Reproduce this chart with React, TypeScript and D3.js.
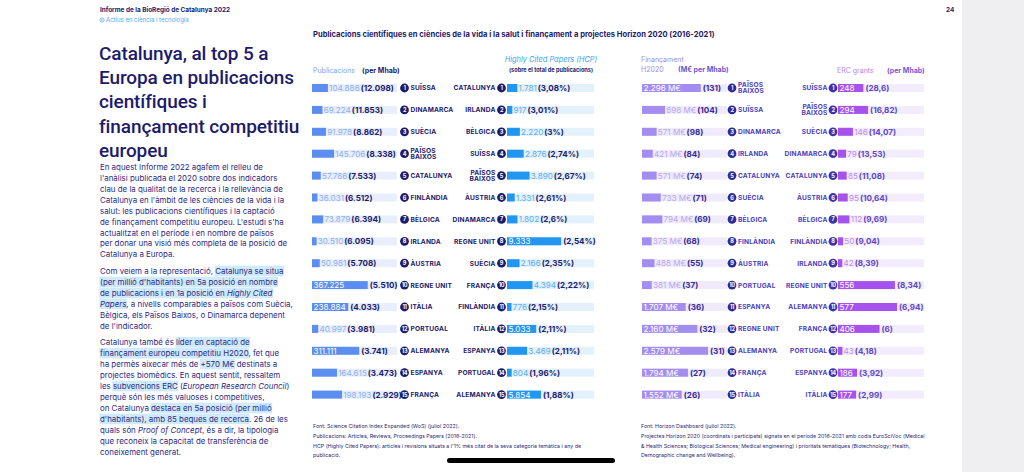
import React, { useEffect, useRef } from 'react';
import * as d3 from 'd3';

// ---------- DATA ----------
const pubCountries = ["SUÏSSA", "DINAMARCA", "SUÈCIA", "PAÏSOS BAIXOS", "CATALUNYA", "FINLÀNDIA", "BÈLGICA", "IRLANDA", "ÀUSTRIA", "REGNE UNIT", "ITÀLIA", "PORTUGAL", "ALEMANYA", "ESPANYA", "FRANÇA"];
const pubValues = [104886, 69224, 91978, 145706, 57786, 36031, 73879, 30510, 50981, 367225, 238884, 40997, 311111, 164615, 198193];
const pubPerMhab = [12098, 11853, 8862, 8338, 7533, 6512, 6394, 6095, 5708, 5510, 4033, 3981, 3741, 3473, 2929];

const hcpCountries = ["CATALUNYA", "IRLANDA", "BÈLGICA", "SUÏSSA", "PAÏSOS BAIXOS", "ÀUSTRIA", "DINAMARCA", "REGNE UNIT", "SUÈCIA", "FRANÇA", "FINLÀNDIA", "ITÀLIA", "ESPANYA", "PORTUGAL", "ALEMANYA"];
const hcpValues = [1781, 917, 2220, 2876, 3890, 1331, 1802, 9333, 2166, 4394, 776, 5033, 3469, 804, 5854];
const hcpPct = [3.08, 3.01, 3, 2.74, 2.67, 2.61, 2.6, 2.54, 2.35, 2.22, 2.15, 2.11, 2.11, 1.96, 1.88];

const finCountries = ["PAÏSOS BAIXOS", "SUÏSSA", "DINAMARCA", "IRLANDA", "CATALUNYA", "SUÈCIA", "BÈLGICA", "FINLÀNDIA", "ÀUSTRIA", "PORTUGAL", "ESPANYA", "REGNE UNIT", "ALEMANYA", "FRANÇA", "ITÀLIA"];
const finValues = [2296, 898, 571, 421, 571, 733, 794, 375, 488, 381, 1707, 2160, 2579, 1794, 1552];
const finPerMhab = [131, 104, 98, 84, 74, 71, 69, 68, 55, 37, 36, 32, 31, 27, 26];

const ercCountries = ["SUÏSSA", "PAÏSOS BAIXOS", "SUÈCIA", "DINAMARCA", "CATALUNYA", "ÀUSTRIA", "BÈLGICA", "FINLÀNDIA", "IRLANDA", "REGNE UNIT", "ALEMANYA", "FRANÇA", "PORTUGAL", "ESPANYA", "ITÀLIA"];
const ercValues = [248, 294, 146, 79, 85, 95, 112, 50, 42, 556, 577, 406, 43, 186, 177];
const ercPerMhab = [28.6, 16.82, 14.07, 13.53, 11.08, 10.64, 9.69, 9.04, 8.39, 8.34, 6.94, 6, 4.18, 3.92, 2.99];

const titleLines = ["Catalunya, al top 5 a", "Europa en publicacions", "científiques i", "finançament competitiu", "europeu"];

type Seg = { t: string; hl?: boolean; it?: boolean };
const bodyParas: Seg[][][] = [
  [
    [{ t: "En aquest Informe 2022 agafem el relleu de" }],
    [{ t: "l'anàlisi publicada el 2020 sobre dos indicadors" }],
    [{ t: "clau de la qualitat de la recerca i la rellevància de" }],
    [{ t: "Catalunya en l'àmbit de les ciències de la vida i la" }],
    [{ t: "salut: les publicacions científiques i la captació" }],
    [{ t: "de finançament competitiu europeu. L'estudi s'ha" }],
    [{ t: "actualitzat en el període i en nombre de països" }],
    [{ t: "per donar una visió més completa de la posició de" }],
    [{ t: "Catalunya a Europa." }],
  ],
  [
    [{ t: "Com veiem a la representació, " }, { t: "Catalunya se situa", hl: true }],
    [{ t: "(per millió d'habitants) en 5a posició en nombre", hl: true }],
    [{ t: "de publicacions i en 1a posició en ", hl: true }, { t: "Highly Cited", hl: true, it: true }],
    [{ t: "Papers", hl: true, it: true }, { t: ", a nivells comparables a països com Suècia," }],
    [{ t: "Bèlgica, els Països Baixos, o Dinamarca depenent" }],
    [{ t: "de l'indicador." }],
  ],
  [
    [{ t: "Catalunya també és " }, { t: "líder en captació de", hl: true }],
    [{ t: "finançament europeu competitiu H2020", hl: true }, { t: ", fet que" }],
    [{ t: "ha permès aixecar més de " }, { t: "+570 M€", hl: true }, { t: " destinats a" }],
    [{ t: "projectes biomèdics. En aquest sentit, ressaltem" }],
    [{ t: "les " }, { t: "subvencions ERC", hl: true }, { t: " (" }, { t: "European Research Council", it: true }, { t: ")" }],
    [{ t: "perquè són les més valuoses i competitives," }],
    [{ t: "on Catalunya " }, { t: "destaca en 5a posició (per millió", hl: true }],
    [{ t: "d'habitants), amb 85 beques de recerca", hl: true }, { t: ". 26 de les" }],
    [{ t: "quals són " }, { t: "Proof of Concept", it: true }, { t: ", és a dir, la tipologia" }],
    [{ t: "que reconeix la capacitat de transferència de" }],
    [{ t: "coneixement generat." }],
  ],
];

const footLeft = [
  "Font: Science Citation Index Expanded (WoS) (juliol 2022).",
  "Publicacions: Articles, Reviews, Proceedings Papers (2016-2021).",
  "HCP (Highly Cited Papers): articles i revisions situats a l'1% més citat de la seva categoria temàtica i any de",
  "publicació.",
];
const footRight = [
  "Font: Horizon Dashboard (juliol 2022).",
  "Projectes Horizon 2020 (coordinats i participats) signats en el període 2016-2021 amb codis EuroSciVoc (Medical",
  "& Health Sciences; Biological Sciences; Medical engineering) i prioritats temàtiques (Biotechnology; Health,",
  "Demographic change and Wellbeing).",
];

// ---------- DRAW ----------
const FONT = "Inter, 'Noto Sans', sans-serif";
const TFONT = "Roboto, Inter, sans-serif";
const NAVY = "#1d1b6b";
const BODY = "#2c2a83";

const loc = d3.formatLocale({ decimal: ",", thousands: ".", grouping: [3], currency: ["", ""] });
const fmtInt = loc.format(",d");
const fmtDec = loc.format(",.2~f");

function draw(svgEl: SVGSVGElement) {
  const svg = d3.select(svgEl);
  svg.selectAll("*").remove();
  svg.append("rect").attr("width", 1024).attr("height", 472).attr("fill", "#fff");
  svg.append("rect").attr("x", 962).attr("width", 62).attr("height", 472).attr("fill", "#efeff1");

  // header
  svg.append("text").attr("x", 100).attr("y", 12).attr("font-family", FONT).attr("font-size", 6.4).attr("font-weight", 700).attr("fill", NAVY).text("Informe de la BioRegió de Catalunya 2022");
  svg.append("circle").attr("cx", 102).attr("cy", 20).attr("r", 2.1).attr("fill", "none").attr("stroke", "#56a8f0").attr("stroke-width", 0.7);
  svg.append("circle").attr("cx", 102).attr("cy", 20).attr("r", 0.8).attr("fill", "#56a8f0");
  svg.append("text").attr("x", 106).attr("y", 22).attr("font-family", FONT).attr("font-size", 6).attr("fill", "#56a8f0").text("Actius en ciència i tecnologia");
  svg.append("text").attr("x", 946).attr("y", 12).attr("font-family", FONT).attr("font-size", 6.4).attr("font-weight", 700).attr("fill", NAVY).text("24");

  // title
  titleLines.forEach((l, i) => {
    svg.append("text").attr("x", 99).attr("y", 59.5 + i * 24.4).attr("font-family", TFONT).attr("font-size", 19)
      .attr("font-weight", 500).attr("letter-spacing", -0.1).attr("fill", NAVY).text(l);
  });

  // body
  const hlG = svg.append("g");
  const txG = svg.append("g");
  let y = 167;
  bodyParas.forEach((para, pi) => {
    if (pi > 0) y += 5.5;
    para.forEach((line) => {
      const t = txG.append("text").attr("x", 100).attr("y", y + 2.8).attr("font-family", FONT).attr("font-size", 7.9)
        .attr("fill", BODY).style("white-space", "pre");
      line.forEach((s) => {
        t.append("tspan").attr("font-style", s.it ? "italic" : null).text(s.t);
      });
      const node = t.node() as SVGTextElement;
      let idx = 0;
      line.forEach((s) => {
        if (s.hl) {
          const a = node.getExtentOfChar(idx);
          const b = node.getExtentOfChar(idx + s.t.length - 1);
          hlG.append("rect").attr("x", a.x - 0.5).attr("y", y - 5.3).attr("width", b.x + b.width - a.x + 1).attr("height", 10.6).attr("fill", "#cfeafb");
        }
        idx += s.t.length;
      });
      y += 10.95;
    });
  });

  // chart title
  svg.append("text").attr("x", 313).attr("y", 37).attr("font-family", FONT).attr("font-size", 7.6).attr("font-weight", 700).attr("fill", NAVY)
    .text("Publicacions científiques en ciències de la vida i la salut i finançament a projectes Horizon 2020 (2016-2021)");

  // panel headers
  const hdr = (x: number, yy: number, txt: string, color: string, opts: any = {}) =>
    svg.append("text").attr("x", x).attr("y", yy).attr("font-family", FONT).attr("font-size", opts.size || 7)
      .attr("font-weight", opts.bold ? 700 : 400).attr("font-style", opts.it ? "italic" : null)
      .attr("text-anchor", opts.anchor || "start").attr("fill", color).text(txt);
  hdr(313, 72.5, "Publicacions", "#7fa5ee");
  hdr(362, 72.5, "(per Mhab)", NAVY, { bold: true });
  hdr(551, 62, "Highly Cited Papers (HCP)", "#3ba0f3", { it: true, anchor: "middle", size: 7.4 });
  hdr(551, 71.5, "(sobre el total de publicacions)", NAVY, { bold: true, anchor: "middle", size: 5.6 });
  hdr(641, 62, "Finançament", "#a08ee8");
  hdr(641, 72, "H2020", "#a08ee8");
  hdr(678, 72, "(M€ per Mhab)", "#6f55d3", { bold: true });
  hdr(837, 72.5, "ERC grants", "#b886ec");
  hdr(887, 72.5, "(per Mhab)", "#7a54d4", { bold: true });

  const panels = [
    { c: pubCountries, v: pubValues, p: pubPerMhab, fv: (v: number) => fmtInt(v), fp: (v: number) => `(${fmtInt(v)})`, inside: 200000,
      x0: 312, w: 85, max: 560000, bar: "#5b8ef0", bg: "#e8eefc", lab: "#8db0f2", perC: NAVY, circ: NAVY, nameC: NAVY, side: "right", cx: 404.5, nx: 410.5 },
    { c: hcpCountries, v: hcpValues, p: hcpPct, fv: (v: number) => fmtInt(v), fp: (v: number) => `(${fmtDec(v)}%)`, inside: 5000,
      x0: 507, w: 87, max: 15000, bar: "#2196f3", bg: "#e3f1fd", lab: "#57aff5", perC: NAVY, circ: NAVY, nameC: NAVY, side: "left", cx: 501.5, nx: 495.5 },
    { c: finCountries, v: finValues, p: finPerMhab, fv: (v: number) => `${fmtInt(v)} M€`, fp: (v: number) => `(${fmtInt(v)})`, inside: 1500,
      x0: 642, w: 85, max: 3320, bar: "#a38df0", bg: "#efebfc", lab: "#b7a8f2", perC: "#35299a", circ: "#2e2a98", nameC: "#4b3ebd", side: "right", cx: 732, nx: 738 },
    { c: ercCountries, v: ercValues, p: ercPerMhab, fv: (v: number) => fmtInt(v), fp: (v: number) => `(${fmtDec(v)})`, inside: 170,
      x0: 838, w: 86, max: 840, bar: "#a653ee", bg: "#f3ecfd", lab: "#bb8cf0", perC: "#5c47c8", circ: "#3d33ae", nameC: "#4d40c0", side: "left", cx: 833, nx: 827.5 },
  ];

  const yScale = d3.scalePoint<number>().domain(d3.range(15)).range([88, 88 + 14 * 21.9]);

  panels.forEach((P) => {
    const xs = d3.scaleLinear().domain([0, P.max]).range([0, P.w]);
    const g = svg.append("g");
    P.c.forEach((name, i) => {
      const yc = yScale(i)!;
      const bw = xs(P.v[i]);
      g.append("rect").attr("x", P.x0).attr("y", yc - 4).attr("width", P.w).attr("height", 8).attr("fill", P.bg);
      g.append("rect").attr("x", P.x0).attr("y", yc - 4).attr("width", bw).attr("height", 8).attr("fill", P.bar);
      const lab = g.append("text").attr("y", yc + 3).attr("font-family", FONT).attr("font-size", 8.1).text(P.fv(P.v[i]));
      const lw = (lab.node() as SVGTextElement).getComputedTextLength();
      let perX;
      if (P.v[i] >= P.inside) {
        lab.attr("x", P.x0 + 1.5).attr("fill", "#fff");
        perX = Math.max(P.x0 + bw, P.x0 + 1.5 + lw) + 2;
      } else {
        lab.attr("x", P.x0 + bw + 1.2).attr("fill", P.lab);
        perX = P.x0 + bw + 1.2 + lw + 1;
      }
      g.append("text").attr("x", perX).attr("y", yc + 3).attr("font-family", FONT).attr("font-size", 8.1).attr("font-weight", 700)
        .attr("fill", P.perC).text(P.fp(P.p[i]));
      // rank circle
      g.append("circle").attr("cx", P.cx).attr("cy", yc).attr("r", 4.4).attr("fill", P.circ);
      g.append("text").attr("x", P.cx).attr("y", yc + 2).attr("text-anchor", "middle").attr("font-family", FONT).attr("font-size", 5.6)
        .attr("font-weight", 700).attr("fill", "#fff").attr("letter-spacing", -0.3).text(String(i + 1));
      // name
      const parts = name === "PAÏSOS BAIXOS" ? ["PAÏSOS", "BAIXOS"] : [name];
      parts.forEach((pt, k) => {
        const dy = parts.length === 1 ? 2.4 : (k === 0 ? -1.1 : 5.3);
        g.append("text").attr("x", P.nx).attr("y", yc + dy).attr("text-anchor", P.side === "right" ? "start" : "end")
          .attr("font-family", FONT).attr("font-size", 6.6).attr("font-weight", 700).attr("letter-spacing", 0.15)
          .attr("fill", P.nameC).text(pt);
      });
    });
  });

  // footers
  const fy = [428, 438, 448, 456.5];
  footLeft.forEach((l, i) => {
    svg.append("text").attr("x", 313).attr("y", fy[i]).attr("font-family", FONT).attr("font-size", 5.3).attr("fill", "#2a2872").text(l);
  });
  footRight.forEach((l, i) => {
    svg.append("text").attr("x", 641).attr("y", fy[i]).attr("font-family", FONT).attr("font-size", 5.3).attr("fill", "#2a2872").text(l);
  });

  // device home indicator
  svg.append("rect").attr("x", 447).attr("y", 458).attr("width", 168).attr("height", 5).attr("rx", 2.5).attr("fill", "#000");
}

export default function App() {
  const ref = useRef<SVGSVGElement>(null);
  useEffect(() => {
    if (ref.current) draw(ref.current);
  }, []);
  return (
    <svg ref={ref} width={1024} height={472} style={{ position: "absolute", left: 0, top: 0, display: "block" }} />
  );
}
